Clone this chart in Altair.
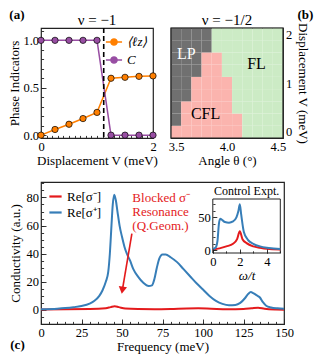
import altair as alt
import pandas as pd

FONT = "Liberation Serif"
AXC = "#222222"

# ---------------- panel (a) ----------------
a_V = [0, 0.25, 0.5, 0.75, 1.0, 1.25, 1.5, 1.75, 2.0]
a_lz = [0.0, 0.06, 0.115, 0.175, 0.24, 0.60, 0.61, 0.62, 0.625]
a_C = [1.0, 1.0, 1.0, 1.0, 1.0, 0.0, 0.0, 0.0, 0.0]
a_series = ["⟨ℓz⟩", "C"]
a_colors = ["#ff7f00", "#984ea3"]
a_transition = [1.12]
a_title = "ν = −1"
a_xdomain = [0, 2]
a_ydomain = [-0.03, 1.13]
a_xmajor = [0, 1, 2]
a_xminor = [round(0.1 * i, 1) for i in range(21)]
a_ymajor = [0.0, 0.5, 1.0]
a_yminor = [round(0.1 * i, 1) for i in range(12)]

# ---------------- panel (b) ----------------
b_angles = [3.5, 3.6, 3.7, 3.8, 3.9, 4.0, 4.1, 4.2, 4.3, 4.4, 4.5]
b_V = [0.0, 0.25, 0.5, 0.75, 1.0, 1.25, 1.5, 1.75, 2.0]
b_rows = ["CCCCCCCFFFF", "LCCCCCCFFFF", "LCCCCCFFFFF", "LLCCCCFFFFF",
          "LLCCCCFFFFF", "LLLCCFFFFFF", "LLLCCFFFFFF", "LLLLFFFFFFF",
          "LLLLFFFFFFF"]
b_codes = {"L": "LP", "C": "CFL", "F": "FL"}
b_phases = ["LP", "CFL", "FL"]
b_colors = ["#707070", "#fbb4ae", "#ccebc5"]
b_lab_text = ["LP", "CFL", "FL"]
b_lab_angle = [3.6, 3.79, 4.29]
b_lab_V = [1.6, 0.36, 1.38]
b_lab_color = ["white", "black", "black"]
b_title = "ν = −1/2"
b_xdomain = [3.45, 4.55]
b_ydomain = [-0.125, 2.125]
b_xticks = [3.5, 4.0, 4.5]
b_yticks = [0, 1, 2]

# ---------------- panel (c) ----------------
c_series = ["Re[σ⁻]", "Re[σ⁺]"]
c_colors = ["#e41a1c", "#377eb8"]
c_f_plus = [0, 10, 15, 20, 25, 30, 33, 36, 38, 40, 41.5, 42.5, 43.5, 44.3, 45.2,
            46.2, 47.2, 48.5, 50, 51.5, 53, 55, 57, 60, 63, 66.5, 68.5, 70, 71.5,
            73, 75, 77, 80, 84, 88, 92, 96, 100, 104, 108, 112, 116, 120, 123,
            126, 128, 129.5, 131, 133, 135, 137, 139, 142, 146, 150]
c_v_plus = [0.5, 0.9, 1.3, 1.9, 2.8, 4.5, 6.5, 10, 14, 20, 27, 40, 60, 75, 82,
            78, 70, 60, 52, 45, 40, 35, 29, 23.5, 19.5, 17, 17.5, 22, 30,
            36.5, 39.5, 39.5, 37.5, 34, 29, 24, 19, 14.5, 10, 6.5, 4.3, 3.3, 3.5, 5,
            8.5, 11.5, 12.7, 12, 10.5, 9, 5.5, 3, 1.8, 1.2, 0.9]
c_f_minus = [0, 30, 40, 43, 45.5, 48, 52, 60, 70, 80, 90, 97, 105, 115, 125, 130,
             134, 138, 145, 150]
c_v_minus = [0.3, 0.6, 1.2, 2.0, 2.6, 2.0, 1.0, 0.6, 0.5, 0.7, 1.1, 1.2, 0.9, 0.5,
             0.7, 1.2, 1.6, 0.8, 0.3, 0.2]
c_xdomain = [0, 150]
c_ydomain = [-10, 91]
c_xmajor = [0, 25, 50, 75, 100, 125, 150]
c_xminor = list(range(0, 151, 5))
c_ymajor = [0, 20, 40, 60, 80]
c_yminor = list(range(-5, 91, 5))
c_arrow_from = [56.1, 54.3]
c_arrow_to = [50.2, 14.0]
c_note = "Blocked σ⁻\nResonance\n(Q.Geom.)"
c_note_pos = [56.4, 84.0]

# inset
i_w_plus = [0, 0.2, 0.35, 0.45, 0.55, 0.7, 0.9, 1.2, 1.5, 1.75, 1.9, 2.0, 2.1,
            2.3, 2.6, 3.0, 3.5, 4.0, 4.5, 5.0]
i_s_plus = [2, 4, 15, 40, 48, 46, 43, 42, 44, 50, 60, 70, 55, 28, 16, 10, 6, 4, 3, 2]
i_w_minus = [0, 0.5, 1.0, 1.5, 1.8, 2.0, 2.2, 2.5, 3.0, 3.5, 4.0, 5.0]
i_s_minus = [1, 3, 6, 10, 17, 29, 17, 11, 6, 4, 2.5, 1.5]
i_xdomain = [0, 5]
i_ydomain = [-4, 78]
i_xmajor = [0, 2, 4]
i_xminor = [0, 1, 2, 3, 4, 5]
i_ymajor = [0, 50]
i_yminor = [0, 10, 20, 30, 40, 50, 60, 70]
i_title = "Control Expt."

TICK_W = 0.9


def major_axis(values, fmt, orient, T=5.0, shift=0.0, **kw):
    d = dict(values=values, format=fmt, orient=orient, tickSize=T,
             offset=-(T + shift), domain=False, tickColor=AXC, tickWidth=TICK_W,
             grid=False, labelOverlap=False, labelFlush=False, labelPadding=2.5)
    d.update(kw)
    return alt.Axis(**d)


def minor_axis(values, orient, m=2.6, shift=0.0, **kw):
    return alt.Axis(values=values, orient=orient, tickSize=m, offset=-(m + shift),
                    labels=False, domain=False, title=None, grid=False,
                    tickColor=AXC, tickWidth=TICK_W, **kw)


def txt(df, xf, yf, xs, ys, **mk):
    return alt.Chart(df).mark_text(font=FONT, **mk).encode(
        x=alt.X(xf, scale=xs, axis=None), y=alt.Y(yf, scale=ys, axis=None), text="t:N")


# ---------- build (a)
dfa = pd.DataFrame({
    "V": a_V + a_V,
    "val": a_lz + a_C,
    "series": [a_series[0]] * len(a_V) + [a_series[1]] * len(a_V),
})
xa_s = alt.Scale(domain=a_xdomain, nice=False, zero=False)
ya_s = alt.Scale(domain=a_ydomain, nice=False, zero=False)
col_a = alt.Color("series:N", scale=alt.Scale(domain=a_series, range=a_colors),
                  sort=a_series,
                  legend=alt.Legend(orient="top-right", title=None, offset=2,
                                    symbolType="M-1,0L-0.38,0M0.38,0L1,0M0.38,0A0.38,0.38,0,1,1,-0.38,0A0.38,0.38,0,1,1,0.38,0Z",
                                    symbolSize=260, symbolStrokeWidth=1.5,
                                    labelFontStyle="italic", labelFontSize=13,
                                    rowPadding=2, padding=3))
a_lines = alt.Chart(dfa).mark_line(strokeWidth=1.5).encode(
    x=alt.X("V:Q", scale=xa_s,
            axis=major_axis(a_xmajor, "d", "bottom", title="Displacement V (meV)",
                            titlePadding=1)),
    y=alt.Y("val:Q", scale=ya_s,
            axis=major_axis(a_ymajor, ".1f", "left", title="Phase Indicators",
                            titlePadding=1)),
    color=col_a)
a_ghost = alt.Chart(dfa).mark_point(opacity=0).encode(
    x=alt.X("V:Q", scale=xa_s, axis=minor_axis(a_xminor, "bottom")),
    y=alt.Y("val:Q", scale=ya_s, axis=minor_axis(a_yminor, "left")))
a_pts = alt.Chart(dfa).mark_point(filled=True, size=40, stroke="black",
                                  strokeWidth=0.7, opacity=1).encode(
    x=alt.X("V:Q", scale=xa_s, axis=None), y=alt.Y("val:Q", scale=ya_s, axis=None),
    color=col_a)
a_rule = alt.Chart(pd.DataFrame({"V": a_transition})).mark_rule(
    color="black", strokeDash=[5, 3], strokeWidth=1.6).encode(
    x=alt.X("V:Q", scale=xa_s, axis=None))
a_lab = txt(pd.DataFrame({"V": [-0.43], "val": [1.267], "t": ["(a)"]}),
            "V:Q", "val:Q", xa_s, ya_s, fontWeight="bold", fontSize=13)
a_tt = txt(pd.DataFrame({"V": [sum(a_xdomain) / 2], "val": [1.214], "t": [a_title]}),
           "V:Q", "val:Q", xa_s, ya_s, fontSize=15)
panel_a = alt.layer(a_lines, a_ghost, a_pts, a_rule, a_lab, a_tt).resolve_axis(
    x="independent", y="independent").properties(width=112, height=110)

# ---------- build (b)
cells = []
dA = b_angles[1] - b_angles[0]
dV = b_V[1] - b_V[0]
for vi, row in zip(b_V, b_rows):
    for ang, code in zip(b_angles, row):
        cells.append({"x0": ang - dA / 2, "x1": ang + dA / 2,
                      "y0": vi - dV / 2, "y1": vi + dV / 2, "phase": b_codes[code]})
dfb = pd.DataFrame(cells)
xb_s = alt.Scale(domain=b_xdomain, nice=False, zero=False)
yb_s = alt.Scale(domain=b_ydomain, nice=False, zero=False)
b_rect = alt.Chart(dfb).mark_rect(stroke=None).encode(
    x=alt.X("x0:Q", scale=xb_s,
            axis=major_axis(b_xticks, ".1f", "bottom", title="Angle θ (°)", titlePadding=1)),
    x2="x1:Q",
    y=alt.Y("y0:Q", scale=yb_s,
            axis=major_axis(b_yticks, "d", "right", title="Displacement V (meV)",
                            titleAngle=90, titlePadding=4)),
    y2="y1:Q",
    color=alt.Color("phase:N", scale=alt.Scale(domain=b_phases, range=b_colors), legend=None),
)
dfb_frame = pd.DataFrame({"x0": [b_xdomain[0]], "x1": [b_xdomain[1]],
                          "y0": [b_ydomain[0]], "y1": [b_ydomain[1]]})
b_frame = alt.Chart(dfb_frame).mark_rect(fillOpacity=0, stroke=AXC, strokeWidth=1.2).encode(
    x=alt.X("x0:Q", scale=xb_s, axis=None), x2="x1:Q",
    y=alt.Y("y0:Q", scale=yb_s, axis=None), y2="y1:Q")
dfb_lab = pd.DataFrame({"a": b_lab_angle, "v": b_lab_V, "t": b_lab_text, "c": b_lab_color})
b_text = alt.Chart(dfb_lab).mark_text(fontSize=16, font=FONT).encode(
    x=alt.X("a:Q", scale=xb_s, axis=None), y=alt.Y("v:Q", scale=yb_s, axis=None),
    text="t:N", color=alt.Color("c:N", scale=None))
b_lab = txt(pd.DataFrame({"a": [4.77], "v": [2.39], "t": ["(b)"]}),
            "a:Q", "v:Q", xb_s, yb_s, fontWeight="bold", fontSize=13)
b_tt = txt(pd.DataFrame({"a": [sum(b_xdomain) / 2], "v": [2.289], "t": [b_title]}),
           "a:Q", "v:Q", xb_s, yb_s, fontSize=15)
panel_b = alt.layer(b_rect, b_frame, b_text, b_lab, b_tt).resolve_axis(
    x="independent", y="independent").properties(width=112, height=110)

# ---------- build (c)
W_C, H_C = 243, 142
dfc = pd.DataFrame({
    "f": c_f_minus + c_f_plus,
    "v": c_v_minus + c_v_plus,
    "series": [c_series[0]] * len(c_f_minus) + [c_series[1]] * len(c_f_plus),
})
xc_s = alt.Scale(domain=c_xdomain, nice=False, zero=False)
yc_s = alt.Scale(domain=c_ydomain, nice=False, zero=False)
col_c = alt.Color("series:N", scale=alt.Scale(domain=c_series, range=c_colors),
                  legend=alt.Legend(orient="top-left", title=None, offset=4,
                                    symbolType="stroke", symbolStrokeWidth=2.2,
                                    symbolSize=150, labelFontSize=13, rowPadding=1,
                                    padding=3))
c_lines = alt.Chart(dfc).mark_line(strokeWidth=2, interpolate="monotone").encode(
    x=alt.X("f:Q", scale=xc_s,
            axis=major_axis(c_xmajor, "d", "bottom", title="Frequency (meV)",
                            titlePadding=2, labelPadding=2)),
    y=alt.Y("v:Q", scale=yc_s,
            axis=major_axis(c_ymajor, "d", "left", title="Conductivity (a.u.)",
                            titlePadding=4)),
    color=col_c)
c_ghost = alt.Chart(dfc).mark_point(opacity=0).encode(
    x=alt.X("f:Q", scale=xc_s, axis=minor_axis(c_xminor, "bottom")),
    y=alt.Y("v:Q", scale=yc_s, axis=minor_axis(c_yminor, "left")))
dfarrow = pd.DataFrame({"f": [c_arrow_from[0]], "v": [c_arrow_from[1]],
                        "f2": [c_arrow_to[0]], "v2": [c_arrow_to[1]]})
c_arrow = alt.Chart(dfarrow).mark_rule(color="#e41a1c", strokeWidth=1.6).encode(
    x=alt.X("f:Q", scale=xc_s, axis=None), y=alt.Y("v:Q", scale=yc_s, axis=None),
    x2="f2:Q", y2="v2:Q")
c_head = alt.Chart(dfarrow).mark_point(shape="triangle-down", filled=True, size=70,
                                       color="#e41a1c", angle=9, opacity=1).encode(
    x=alt.X("f2:Q", scale=xc_s, axis=None), y=alt.Y("v2:Q", scale=yc_s, axis=None))
c_text = txt(pd.DataFrame({"f": [c_note_pos[0]], "v": [c_note_pos[1]], "t": [c_note]}),
             "f:Q", "v:Q", xc_s, yc_s, align="left", baseline="top", lineBreak="\n",
             fontSize=13, lineHeight=14, color="#e41a1c")
c_lab = txt(pd.DataFrame({"f": [-14.5], "v": [-25], "t": ["(c)"]}),
            "f:Q", "v:Q", xc_s, yc_s, fontWeight="bold", fontSize=13)
c_main = alt.layer(c_lines, c_ghost, c_arrow, c_head, c_text, c_lab).resolve_axis(
    x="independent", y="independent")

# inset geometry (pixels inside panel c)
IX0, IX1, IY0, IY1 = 171.8, 239.3, 17, 71
xi_s = alt.Scale(domain=i_xdomain, range=[IX0, IX1], nice=False, zero=False)
yi_s = alt.Scale(domain=i_ydomain, range=[IY1, IY0], nice=False, zero=False)
dfi = pd.DataFrame({
    "w": i_w_minus + i_w_plus,
    "s": i_s_minus + i_s_plus,
    "series": [c_series[0]] * len(i_w_minus) + [c_series[1]] * len(i_w_plus),
})
dfi_box = pd.DataFrame({"w": [i_xdomain[0]], "w2": [i_xdomain[1]],
                        "s": [i_ydomain[0]], "s2": [i_ydomain[1]]})
i_box = alt.Chart(dfi_box).mark_rect(fill="white", stroke=AXC, strokeWidth=1).encode(
    x=alt.X("w:Q", scale=xi_s,
            axis=major_axis(i_xmajor, "d", "bottom", T=4, shift=H_C - IY1, title="ω/t",
                            titlePadding=1, titleFontStyle="italic", zindex=1)),
    x2="w2:Q",
    y=alt.Y("s:Q", scale=yi_s,
            axis=major_axis(i_ymajor, "d", "left", T=4, shift=IX0, title=None,
                            zindex=1)),
    y2="s2:Q")
i_ghost = alt.Chart(dfi).mark_point(opacity=0).encode(
    x=alt.X("w:Q", scale=xi_s,
            axis=minor_axis(i_xminor, "bottom", m=2.2, shift=H_C - IY1, zindex=1)),
    y=alt.Y("s:Q", scale=yi_s,
            axis=minor_axis(i_yminor, "left", m=2.2, shift=IX0, zindex=1)))
i_lines = alt.Chart(dfi).mark_line(strokeWidth=2, interpolate="monotone").encode(
    x=alt.X("w:Q", scale=xi_s, axis=None), y=alt.Y("s:Q", scale=yi_s, axis=None),
    color=alt.Color("series:N", scale=alt.Scale(domain=c_series, range=c_colors),
                    legend=None))
i_tt = txt(pd.DataFrame({"w": [sum(i_xdomain) / 2], "s": [i_ydomain[1]], "t": [i_title]}),
           "w:Q", "s:Q", xi_s, yi_s, baseline="bottom", dy=-1, fontSize=12)
c_inset = alt.layer(i_box, i_ghost, i_lines, i_tt).resolve_axis(
    x="independent", y="independent")

panel_c = alt.layer(c_main, c_inset).resolve_scale(
    x="independent", y="independent").properties(width=W_C, height=H_C)

top = alt.hconcat(panel_a, panel_b, spacing=18, bounds="flush").resolve_scale(
    color="independent")
chart = alt.vconcat(top, panel_c, spacing=13).resolve_scale(
    color="independent").properties(
    padding={"left": 0, "top": 0, "right": 0, "bottom": 0}
).configure(font=FONT).configure_view(
    stroke=AXC, strokeWidth=1.2
).configure_axis(
    labelFont=FONT, titleFont=FONT, labelFontSize=12.5, titleFontSize=13,
    labelColor="black", titleColor="black", titleFontWeight="normal"
).configure_legend(labelFont=FONT, labelFontSize=13)

chart.save("out.html", embed_options={"renderer": "svg", "actions": False})
